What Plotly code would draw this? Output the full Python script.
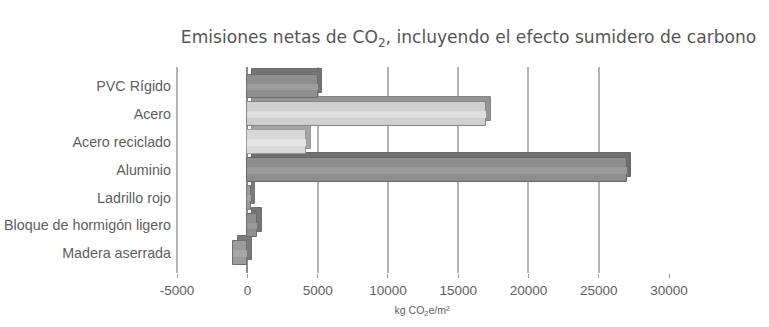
import plotly.graph_objects as go

# Net CO2 emissions per material (kg CO2e/m2), carbon-sink effect included
materials = ["PVC Rígido", "Acero", "Acero reciclado", "Aluminio",
             "Ladrillo rojo", "Bloque de hormigón ligero", "Madera aserrada"]
emissions = [5000, 17000, 4200, 27000, 250, 700, -1000]

x_ticks = [-5000, 0, 5000, 10000, 15000, 20000, 25000, 30000]
x_tick_labels = ["-5000", "0", "5000", "10000", "15000", "20000", "25000", "30000"]

# grey shades: front face, depth (top/side) face, outline, highlight stripe
front_colors = ["#8f8f8f", "#cfcfcf", "#d9d9d9", "#8d8d8d", "#9a9a9a", "#8e8e8e", "#9b9b9b"]
depth_colors = ["#747474", "#959595", "#a5a5a5", "#707070", "#7c7c7c", "#767676", "#7a7a7a"]
edge_colors = ["#6c6c6c", "#858585", "#9a9a9a", "#666666", "#747474", "#6e6e6e", "#707070"]
stripe_colors = ["#9d9d9d", "#dedede", "#e6e6e6", "#9b9b9b", "#a6a6a6", "#9a9a9a", "#a8a8a8"]

DEPTH_X = 320      # horizontal depth of the pseudo-3D bars, in data units
BAR_W = 0.86       # bar thickness in category units
DEPTH_Y = 0.19     # vertical depth, in category units

LABEL_FONT = "Liberation Sans, Arial, sans-serif"
TEXT_GREY = "#5e5e5e"

fig = go.Figure()

# depth face, drawn behind and shifted up/right
fig.add_trace(go.Bar(
    y=materials, x=emissions, base=[DEPTH_X] * len(materials), orientation="h",
    width=BAR_W, offset=-BAR_W / 2 - DEPTH_Y,
    marker=dict(color=depth_colors, line=dict(color=edge_colors, width=1)),
    hoverinfo="skip", showlegend=False,
))
# front face
fig.add_trace(go.Bar(
    y=materials, x=emissions, base=[0] * len(materials), orientation="h",
    width=BAR_W, offset=-BAR_W / 2,
    marker=dict(color=front_colors, line=dict(color=edge_colors, width=1)),
    showlegend=False,
))
# light stripe across the front face
fig.add_trace(go.Bar(
    y=materials, x=emissions, base=[0] * len(materials), orientation="h",
    width=BAR_W * 0.28, offset=-BAR_W * 0.12,
    marker=dict(color=stripe_colors, line=dict(width=0)),
    hoverinfo="skip", showlegend=False,
))

fig.update_layout(
    width=769, height=327,
    margin=dict(l=175, r=100, t=67, b=54),
    paper_bgcolor="white", plot_bgcolor="white",
    barmode="overlay",
    bargap=0,
    title=dict(
        text="Emisiones netas de CO<sub>2</sub>, incluyendo el efecto sumidero de carbono",
        x=457 / 769, xanchor="center", xref="paper",
        y=1 - 37 / 327, yanchor="middle", yref="container",
        font=dict(family="DejaVu Sans, sans-serif", size=17.1, color="#555555"),
    ),
    font=dict(family=LABEL_FONT, color=TEXT_GREY),
)

fig.update_xaxes(
    range=[-5150, 30000],
    tickvals=x_ticks, ticktext=x_tick_labels,
    tickfont=dict(family=LABEL_FONT, size=13.5, color=TEXT_GREY),
    ticks="outside", ticklen=4, tickcolor="#9a9a9a",
    ticklabelstandoff=1,
    showgrid=True, gridcolor="#b4b4b4", gridwidth=1.5,
    zeroline=True, zerolinecolor="#8a8a8a", zerolinewidth=2,
    showline=False, automargin=False,
    title=dict(text="kg CO<sub>2</sub>e/m²", standoff=9,
               font=dict(family=LABEL_FONT, size=10.5, color=TEXT_GREY)),
)

fig.update_yaxes(
    type="category",
    categoryorder="array", categoryarray=materials,
    range=[6.71, -0.70],
    tickfont=dict(family=LABEL_FONT, size=14.3, color=TEXT_GREY),
    ticks="", ticklabelstandoff=3,
    showgrid=False, zeroline=False, showline=False, automargin=False,
)

fig.write_html("out.html")
